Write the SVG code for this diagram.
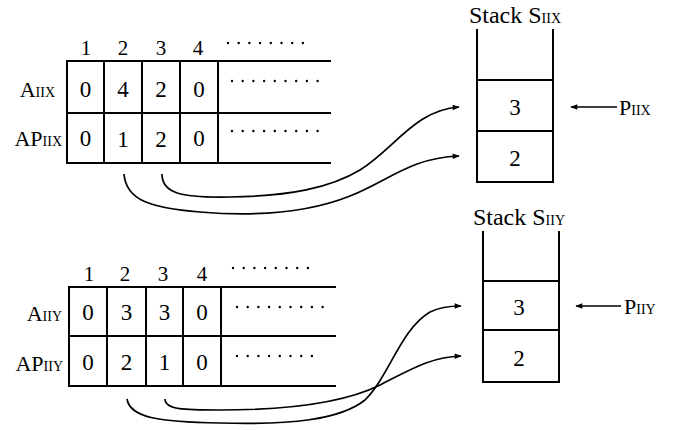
<svg xmlns="http://www.w3.org/2000/svg" width="674" height="430" viewBox="0 0 674 430">
  <style>
    .grid { fill: none; stroke: #000; stroke-width: 2; stroke-linecap: square; }
    .dots { fill: none; stroke: #000; stroke-width: 2.4; stroke-linecap: round; stroke-dasharray: 0 10.7; }
    .link { fill: none; stroke: #000; stroke-width: 1.7; marker-end: url(#head); }
    .ptr { fill: none; stroke: #000; stroke-width: 1.7; marker-end: url(#head); }
    text { font-family: "Liberation Serif", "Times New Roman", serif; fill: #000; }
    .num { font-size: 23px; text-anchor: middle; }
    .idx { font-size: 21px; text-anchor: middle; }
    .lbl { font-size: 22px; text-anchor: end; }
    .title { font-size: 24px; text-anchor: middle; }
    .sub { font-size: 14px; }
  </style>
  <defs>
    <marker id="head" viewBox="0 0 10 10" refX="9" refY="5" markerWidth="9" markerHeight="7" markerUnits="userSpaceOnUse" orient="auto">
      <path d="M0,1 L10,5 L0,9 Z" fill="#000"/>
    </marker>
  </defs>

  <!-- array pair for X -->
  <g id="table-x">
    <path class="grid" d="M67,61 H330 M67,113 H330 M67,163 H330 M67,61 V163 M104,61 V163 M142,61 V163 M180,61 V163 M218,61 V163"/>
    <text class="idx" x="86" y="55">1</text>
    <text class="idx" x="123" y="55">2</text>
    <text class="idx" x="161" y="55">3</text>
    <text class="idx" x="198" y="55">4</text>
    <path class="dots" d="M228,43 H305"/>
    <text class="num" x="85.5" y="97">0</text>
    <text class="num" x="123" y="97">4</text>
    <text class="num" x="161" y="97">2</text>
    <text class="num" x="199" y="97">0</text>
    <path class="dots" d="M232,81 H320"/>
    <text class="num" x="85.5" y="146">0</text>
    <text class="num" x="123" y="147">1</text>
    <text class="num" x="161" y="147">2</text>
    <text class="num" x="199" y="146">0</text>
    <path class="dots" d="M232,131 H318"/>
    <text class="lbl" x="55" y="97">A<tspan class="sub">IIX</tspan></text>
    <text class="lbl" x="62" y="146">AP<tspan class="sub">IIX</tspan></text>
  </g>

  <!-- array pair for Y -->
  <g id="table-y">
    <path class="grid" d="M69,287 H335 M69,336 H335 M69,386 H335 M69,287 V386 M107,287 V386 M146,287 V386 M183,287 V386 M221,287 V386"/>
    <text class="idx" x="89" y="281">1</text>
    <text class="idx" x="125" y="281">2</text>
    <text class="idx" x="163" y="281">3</text>
    <text class="idx" x="202" y="281">4</text>
    <path class="dots" d="M233,268 H309"/>
    <text class="num" x="88" y="320">0</text>
    <text class="num" x="126.5" y="320">3</text>
    <text class="num" x="164.5" y="320">3</text>
    <text class="num" x="202" y="320">0</text>
    <path class="dots" d="M237,307 H324"/>
    <text class="num" x="88" y="370">0</text>
    <text class="num" x="126.5" y="370">2</text>
    <text class="num" x="164.5" y="370">1</text>
    <text class="num" x="202" y="370">0</text>
    <path class="dots" d="M237,356 H322"/>
    <text class="lbl" x="62" y="321">A<tspan class="sub">IIY</tspan></text>
    <text class="lbl" x="63" y="371">AP<tspan class="sub">IIY</tspan></text>
  </g>

  <!-- stack for X -->
  <g id="stack-x">
    <path class="grid" d="M477,30 V182 M553,30 V182 M477,80 H553 M477,131 H553 M477,182 H553"/>
    <text class="title" x="515" y="23">Stack S<tspan class="sub">IIX</tspan></text>
    <text class="num" x="515" y="115">3</text>
    <text class="num" x="515" y="166">2</text>
    <path class="ptr" d="M617,107 H571"/>
    <text x="619" y="115" font-size="22">P<tspan class="sub">IIX</tspan></text>
  </g>

  <!-- stack for Y -->
  <g id="stack-y">
    <path class="grid" d="M483,232 V382 M559,232 V382 M483,281 H559 M483,330 H559 M483,382 H559"/>
    <text class="title" x="519" y="225">Stack S<tspan class="sub">IIY</tspan></text>
    <text class="num" x="519" y="315">3</text>
    <text class="num" x="519" y="366">2</text>
    <path class="ptr" d="M621,306 H576"/>
    <text x="624" y="314" font-size="22">P<tspan class="sub">IIY</tspan></text>
  </g>

  <!-- pointers from AP entries into the stacks -->
  <g id="connectors">
    <path class="link" d="M162,174 C162,193 180,198 230,197 C290,196 330,188 360,170 C395,148 415,110 459,107"/>
    <path class="link" d="M124,174 C126,200 150,208 200,212 C260,217 310,212 350,196 C390,180 410,158 459,156"/>
    <path class="link" d="M165,399 C165,410 185,410 220,410 C300,410 350,400 380,385 C410,370 430,357 461,356"/>
    <path class="link" d="M127,399 C130,418 160,422 220,423 C290,425 340,420 365,400 C390,375 400,330 430,312 C440,307 450,306 461,306"/>
  </g>
</svg>
